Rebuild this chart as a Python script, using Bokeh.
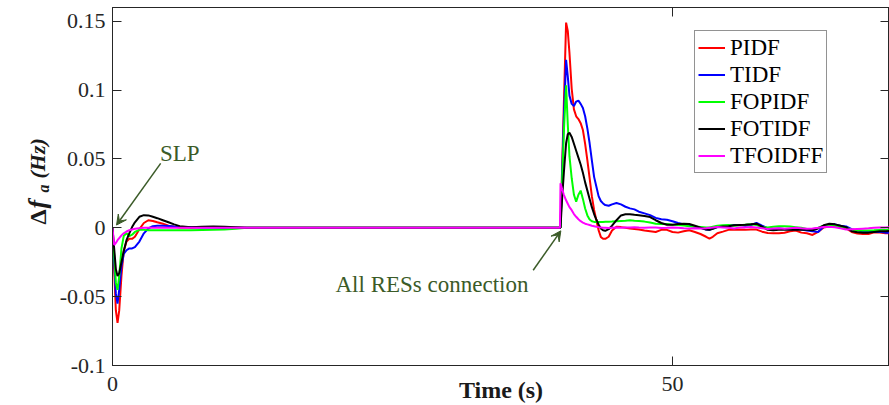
import numpy as np
from bokeh.plotting import figure
from bokeh.layouts import row
from bokeh.models import (Range1d, LinearAxis, FixedTicker, NumeralTickFormatter,
                          Legend, LegendItem, Label, Arrow, VeeHead, ColumnDataSource)
from bokeh.embed import file_html
from bokeh.resources import INLINE

# ---------------- data ----------------
time_s = [
    0, 0.15, 0.3, 0.45, 0.6, 0.8, 1.0, 1.25, 1.5, 1.75, 2.0, 2.4, 2.8, 3.2, 3.6, 4.0, 4.5, 5.0, 5.5, 6, 7, 8, 9, 10,
    11, 12, 15, 39.95,
    40.0, 40.15, 40.3, 40.5, 40.65, 40.8, 41.0, 41.2, 41.4, 41.6, 41.8, 42.0, 42.2, 42.4, 42.6, 42.8, 43.0, 43.2,
    43.4, 43.6, 43.8, 44.0, 44.3, 44.6,
    45.0, 45.4, 45.8, 46.2, 46.6, 47.0,
    47.5, 48.0, 48.5, 49.0, 49.5, 50.0, 50.5, 51.0, 51.5, 52.0, 52.5, 53.0, 53.3, 53.6,
    54.0, 54.5, 55.0, 55.5, 56.0, 56.5, 57.0, 57.5, 58.0, 58.5, 59.0, 59.5, 60.0, 60.5, 61.0, 61.5,
    62.0, 62.5, 63.0, 63.5, 64.0, 64.5, 65.0, 65.5, 66.0, 66.5, 67.0, 67.5, 68.0, 68.5, 69.0, 69.5,
]

pidf = [
    0, -0.030, -0.060, -0.069, -0.060, -0.035, -0.017, -0.010, -0.008, -0.008, -0.0065, -0.001, 0.0035, 0.0055,
    0.005, 0.004, 0.003, 0.0015, 0.0007, 0.0002, 0.0003, 0.0005, 0.0005, 0.0002,
    0, 0, 0, 0,
    0, 0.045, 0.090, 0.149, 0.143, 0.127, 0.101, 0.086, 0.081, 0.079, 0.076, 0.071, 0.061, 0.049, 0.036, 0.023,
    0.013, 0.0055, -0.0017, -0.0066, -0.008, -0.008, -0.0065, -0.002,
    0.0008, 0.0005, 0.0, -0.0005, -0.0008, -0.0012,
    -0.002, -0.0025, -0.003, -0.0015, -0.0015, -0.003, -0.0035, -0.0025, -0.0018, -0.003, -0.0045, -0.0065,
    -0.0078, -0.0065,
    -0.004, -0.0028, -0.0015, -0.0015, -0.0013, -0.0015, -0.0012, -0.0013, -0.0028, -0.0038, -0.004, -0.004,
    -0.0036, -0.0025, -0.002, -0.0035, -0.004, -0.0052, -0.003, 0.0002, 0.001, 0.001, 0.0005, -0.0005,
    -0.003, -0.0042, -0.0045, -0.0045, -0.0032, -0.0035, -0.004, -0.0038,
]

tidf = [
    0, -0.025, -0.048, -0.055, -0.045, -0.028, -0.019, -0.0163, -0.015, -0.015, -0.014, -0.010, -0.004, -0.0005,
    0.0012, 0.0015, 0.0015, 0.0013, 0.001, 0.0008, 0.0005, 0.0003, 0.0002, 0.0001,
    0, 0, 0, 0,
    0, 0.040, 0.080, 0.122, 0.110, 0.096, 0.090, 0.0885, 0.0917, 0.0924, 0.090, 0.087, 0.081, 0.072, 0.0614,
    0.049, 0.037, 0.030, 0.023, 0.0195, 0.0177, 0.0165, 0.016, 0.017,
    0.018, 0.017, 0.0153, 0.0141, 0.0134, 0.0117,
    0.0105, 0.0092, 0.0072, 0.0062, 0.0058, 0.0048, 0.0035, 0.0025, 0.0015, 0.0008, 0.0, -0.0012,
    -0.0015, -0.0005,
    0.0006, 0.0012, 0.0015, 0.002, 0.002, 0.0015, 0.002, 0.0035, 0.0015, -0.0003, -0.0008, -0.0005,
    -0.0008, -0.001, -0.0008, -0.0012, -0.002, -0.0025, -0.003, 0.001, 0.0025, 0.0025, 0.0015, 0.001,
    -0.001, -0.002, -0.0025, -0.003, -0.003, -0.0028, -0.0035, -0.0035,
]

fopidf = [
    0, -0.020, -0.040, -0.045, -0.035, -0.015, -0.006, -0.004, -0.006, -0.005, -0.003, -0.0015, -0.0015, -0.0018,
    -0.0018, -0.0018, -0.0018, -0.0018, -0.0018, -0.0018, -0.0018, -0.0016, -0.0015, -0.0012,
    -0.0006, 0, 0, 0,
    0, 0.035, 0.070, 0.1035, 0.075, 0.052, 0.036, 0.024, 0.019, 0.024, 0.027, 0.021, 0.014, 0.009, 0.006,
    0.0048, 0.0043, 0.0043, 0.0042, 0.0042, 0.0043, 0.0044, 0.0044, 0.0045,
    0.0048, 0.005, 0.0052, 0.0055, 0.0052, 0.005,
    0.0045, 0.0038, 0.003, 0.0027, 0.0027, 0.0022, 0.002, 0.0016, 0.0012, 0.0009, 0.0006, 0.0003,
    0.0002, 0.0008,
    0.0015, 0.0018, 0.002, 0.0015, 0.0018, 0.0022, 0.0025, 0.002, 0.0005, 0.0002, 0.0008, 0.0012,
    0.0012, 0.001, 0.0005, 0.0, -0.0008, -0.0012, 0.0, 0.0015, 0.0022, 0.0015, 0.0008, 0.0,
    -0.0015, -0.002, -0.002, -0.002, -0.0018, -0.0015, -0.0015, -0.0012,
]

fotidf = [
    0, -0.015, -0.030, -0.035, -0.033, -0.025, -0.017, -0.009, -0.004, 0.0005, 0.004, 0.008, 0.0092, 0.009,
    0.008, 0.007, 0.0055, 0.004, 0.0025, 0.0012, 0.0004, 0.0008, 0.001, 0.0008,
    0.0004, 0, 0, 0,
    0, 0.022, 0.040, 0.0614, 0.068, 0.069, 0.066, 0.061, 0.056, 0.051, 0.046, 0.040, 0.033, 0.027, 0.021,
    0.015, 0.010, 0.006, 0.0025, -0.0005, -0.0018, -0.0022, -0.001, 0.0015,
    0.0055, 0.009, 0.0098, 0.0098, 0.0094, 0.0092,
    0.0085, 0.0078, 0.0055, 0.0035, 0.0022, 0.0022, 0.0027, 0.003, 0.0028, 0.0015, 0.0, -0.0012,
    -0.0015, -0.0008,
    0.0005, 0.001, 0.0012, 0.0018, 0.002, 0.0022, 0.0025, 0.003, 0.0008, -0.0015, -0.0017, -0.0015,
    -0.0015, -0.0015, -0.0012, -0.0015, -0.0015, -0.0018, -0.0005, 0.0018, 0.003, 0.0025, 0.0015, 0.0005,
    -0.0025, -0.0033, -0.0036, -0.0035, -0.003, -0.0025, -0.0025, -0.0022,
]

tfoidff = [
    0, -0.0125, -0.011, -0.009, -0.0075, -0.0055, -0.004, -0.0027, -0.0018, -0.0012, -0.0007, -0.0003, 0, 0,
    0, 0, 0, 0, 0, 0, 0, 0, 0, 0,
    0, 0, 0, 0,
    0.0323, 0.028, 0.024, 0.020, 0.0175, 0.015, 0.0128, 0.010, 0.008, 0.0062, 0.0048, 0.0038, 0.003, 0.0025,
    0.002, 0.0015, 0.0012, 0.0008, 0.0005, 0.0003, 0.0001, 0.0, -0.0002, 0.0,
    0.0002, 0.0, 0.0003, 0.0002, 0.0004, 0.0002,
    0.0, 0.0003, 0.0002, -0.0002, 0.0, 0.0003, 0.0, -0.0004, -0.0005, -0.0003, -0.0005, -0.0003,
    0.0, 0.0002,
    0.0005, 0.0003, 0.0, -0.0005, 0.0002, 0.0003, 0.0005, 0.0002, -0.0003, -0.0008, -0.0005, -0.0003,
    -0.0006, -0.0003, 0.0, -0.0004, -0.0006, -0.0005, 0.0, 0.0006, 0.0008, 0.0004, -0.0004, -0.0012,
    -0.001, -0.0008, -0.0006, -0.0004, 0.0, 0.0002, 0.0003, 0.0005,
]

series_names = ["PIDF", "TIDF", "FOPIDF", "FOTIDF", "TFOIDFF"]
series_values = [pidf, tidf, fopidf, fotidf, tfoidff]
series_colors = ["#ff0000", "#0000ff", "#00ff00", "#000000", "#ff00ff"]

x_ticks = [0, 50, 100]
y_ticks = [-0.1, -0.05, 0, 0.05, 0.1, 0.15]

for s in series_values:
    assert len(s) == len(time_s)

# ---------------- styling constants ----------------
AX = "#262626"
FONT = "Liberation Serif"
ANN = "#3b5b28"
TXT = "#1a1a1a"
LEFT_W = 56
TOP_B = 7
BOT_B = 40
FRAME_H = 358

# ---------------- narrow left canvas holding the rotated y title ----------------
# its frame is aligned with the main frame, so its y range is set to pixel rows 7..365
yt = figure(width=LEFT_W, frame_height=FRAME_H, x_range=Range1d(0, LEFT_W),
            y_range=Range1d(TOP_B + FRAME_H, TOP_B),
            output_backend="svg", toolbar_location=None, title=None,
            x_axis_location=None, y_axis_location=None,
            min_border_left=0, min_border_right=0, min_border_top=TOP_B, min_border_bottom=BOT_B)
yt.xgrid.visible = False
yt.ygrid.visible = False
yt.outline_line_color = None
ang = np.pi / 2
yt.add_layout(Label(x=37, y=224, text="Δ", text_font=FONT, text_font_size="24px",
                    text_font_style="bold", text_color=TXT, angle=ang,
                    text_align="left", text_baseline="alphabetic"))
yt.add_layout(Label(x=37, y=208, text="f", text_font=FONT, text_font_size="26px",
                    text_font_style="bold italic", text_color=TXT, angle=ang,
                    text_align="left", text_baseline="alphabetic"))
yt.add_layout(Label(x=43, y=192, text="a", text_font=FONT, text_font_size="16px",
                    text_font_style="bold italic", text_color=TXT, angle=ang,
                    text_align="left", text_baseline="alphabetic"))
yt.add_layout(Label(x=37, y=178, text="(Hz)", text_font=FONT, text_font_size="22px",
                    text_font_style="bold italic", text_color=TXT, angle=ang,
                    text_align="left", text_baseline="alphabetic"))

# ---------------- main figure ----------------
p = figure(frame_width=777, frame_height=FRAME_H,
           x_range=Range1d(0, 69.375), y_range=Range1d(-0.1, 0.16),
           output_backend="svg", toolbar_location=None, title=None,
           x_axis_location=None, y_axis_location=None,
           min_border_left=111 - LEFT_W, min_border_right=0, min_border_top=TOP_B, min_border_bottom=BOT_B)
p.xgrid.visible = False
p.ygrid.visible = False
p.outline_line_color = AX
p.outline_line_width = 1
p.background_fill_color = "white"
p.border_fill_color = "white"


def style_axis(ax, show_labels, ticks):
    ax.axis_line_color = AX
    ax.axis_line_width = 1
    ax.major_tick_line_color = AX
    ax.major_tick_in = 9
    ax.major_tick_out = 0
    ax.minor_tick_line_color = None
    ax.major_label_text_font = FONT
    ax.major_label_text_color = AX
    ax.major_label_text_font_size = "22px"
    if not show_labels:
        ax.major_label_overrides = {t: "" for t in ticks}
        ax.major_label_standoff = 0


xb = LinearAxis(ticker=FixedTicker(ticks=x_ticks), formatter=NumeralTickFormatter(format="0"))
style_axis(xb, True, x_ticks)
xb.major_label_standoff = 11
xb.axis_label = "Time (s)"
xb.axis_label_text_font = FONT
xb.axis_label_text_font_size = "24px"
xb.axis_label_text_font_style = "bold"
xb.axis_label_text_color = TXT
xb.axis_label_standoff = -17
p.add_layout(xb, "below")

xt = LinearAxis(ticker=FixedTicker(ticks=x_ticks))
style_axis(xt, False, x_ticks)
p.add_layout(xt, "above")

yl = LinearAxis(ticker=FixedTicker(ticks=y_ticks), formatter=NumeralTickFormatter(format="0.[00]"))
style_axis(yl, True, y_ticks)
yl.major_label_standoff = 7
p.add_layout(yl, "left")

yr = LinearAxis(ticker=FixedTicker(ticks=y_ticks))
style_axis(yr, False, y_ticks)
p.add_layout(yr, "right")

# ---------------- curves ----------------
renderers = []
for name, vals, col in zip(series_names, series_values, series_colors):
    src = ColumnDataSource(dict(t=time_s, v=vals))
    r = p.line("t", "v", source=src, line_color=col, line_width=2)
    renderers.append(r)

legend = Legend(items=[LegendItem(label=n, renderers=[r]) for n, r in zip(series_names, renderers)],
                location=(582, 192))
legend.label_text_font = FONT
legend.label_text_font_size = "23px"
legend.label_text_color = "#000000"
legend.border_line_color = AX
legend.border_line_width = 1
legend.background_fill_color = "white"
legend.background_fill_alpha = 1
legend.padding = 3
legend.spacing = 0
legend.margin = 0
legend.glyph_width = 27
legend.glyph_height = 27
legend.label_height = 27
legend.label_standoff = 5
p.add_layout(legend, "center")

# ---------------- annotations ----------------
p.add_layout(Label(x=4.24, y=0.0540, text="SLP", text_font=FONT, text_font_size="23px",
                   text_color=ANN, text_align="left", text_baseline="alphabetic"))
p.add_layout(Arrow(x_start=4.3, y_start=0.0468, x_end=0.36, y_end=0.002,
                   line_color=ANN, line_width=1.5,
                   end=VeeHead(size=10, line_color=ANN, fill_color=ANN, line_width=1)))

p.add_layout(Label(x=19.91, y=-0.0412, text="All RESs connection", text_font=FONT, text_font_size="23px",
                   text_color=ANN, text_align="left", text_baseline="alphabetic"))
p.add_layout(Arrow(x_start=37.56, y_start=-0.0308, x_end=40.03, y_end=-0.0022,
                   line_color=ANN, line_width=1.5,
                   end=VeeHead(size=10, line_color=ANN, fill_color=ANN, line_width=1)))

layout = row(yt, p, spacing=0)
open("out.html", "w").write(file_html(layout, INLINE))
